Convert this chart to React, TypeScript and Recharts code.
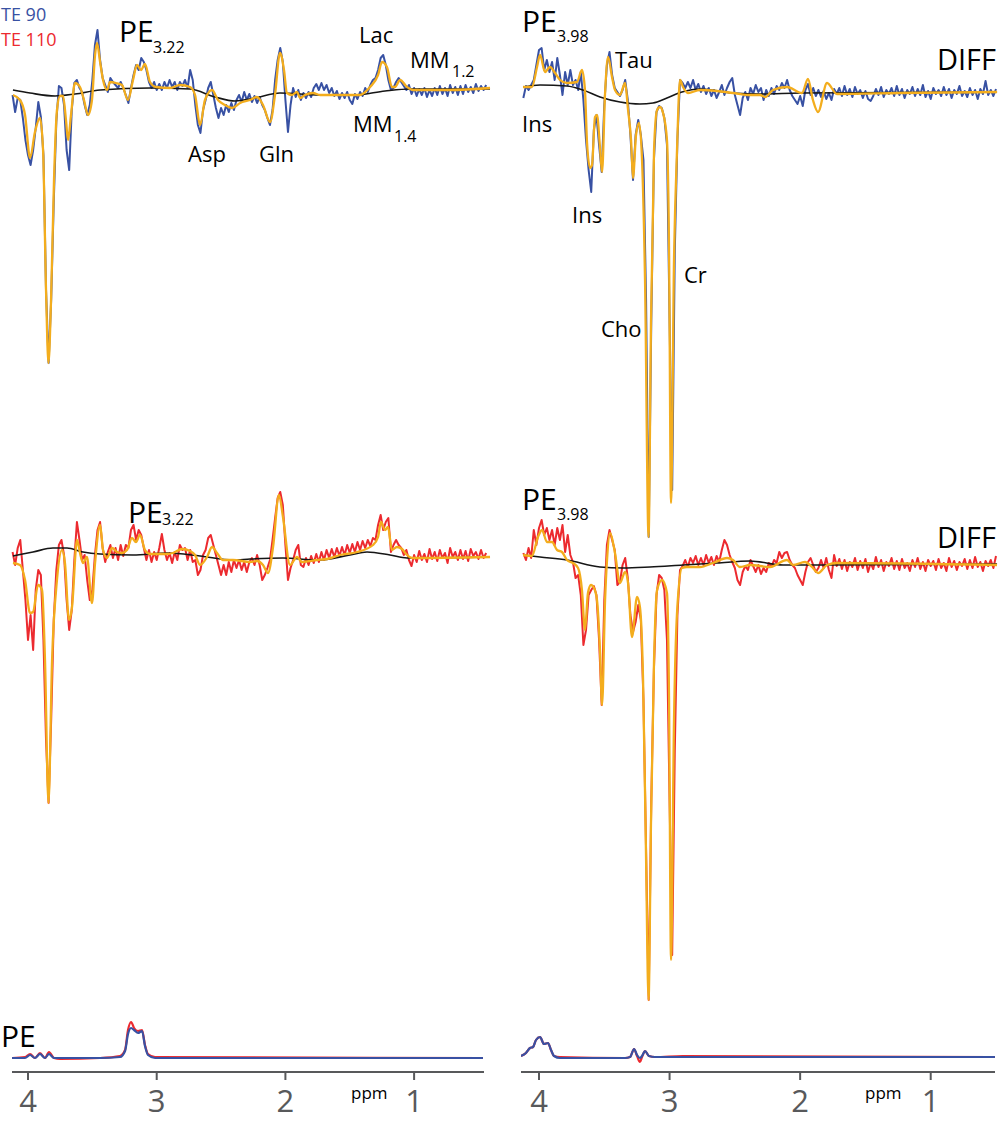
import React from 'react';
import { LineChart, Line, XAxis, YAxis } from 'recharts';

const BLUE = '#3851a3';
const RED = '#ec2a2f';
const ORANGE = '#f3ad1d';
const BLACK = '#161616';
const AXIS = '#58595b';
const FONT = "'Open Sans', 'Noto Sans', sans-serif";

// regular ppm grid of the measured (noisy) spectra
const GRID_START = 4.12;
const GRID_STEP = 0.02;

// TE 90, PE 3.22 (measured)
const TL_BLUE = [
  -3, -20, -6, -8, -26, -48, -63, -73, -58, -36,
  -10, -25, -63, -198, -271, -208, -110, -30, 6, 4,
  -13, -58, -78, -18, 9, 12, 4, 0, -13, -23,
  -13, 12, 47, 62, 32, 14, 7, 0, 14, 10,
  7, 4, 10, 4, -3, -11, 4, 17, 27, 22,
  34, 30, 22, 10, 4, 10, 2, 8, 2, 10,
  4, 12, 5, 10, 2, 10, 6, 12, 4, 22,
  12, -13, -33, -41, -18, -8, 4, 10, -3, -16,
  -26, -16, -23, -13, -20, -11, -18, -8, -3, -10,
  0, -8, -2, -10, -4, -11, -5, -13, -18, -26,
  -33, -18, 12, 32, 44, 30, -8, -40, -13, 4,
  -5, 2, -8, -1, -6, 0, -5, 4, 8, 2,
  9, 2, 7, -1, 4, -4, 1, -7, -1, -6,
  0, -8, -12, -2, -7, 0, -4, 4, 0, 7,
  12, 14, 22, 34, 37, 27, 12, 2, 4, 10,
  14, 10, 6, 2, 7, -2, 4, -4, 3, -3,
  4, -5, 2, -4, 4, -3, 6, -2, 4, -4,
  7, -1, 5, -3, 6, -2, 7, 0, 5, -1,
  8, 1, 6, 2, 7,
];

// TE 90, PE 3.98 DIFF (measured)
const TR_BLUE = [
  -5, 7, 3, 8, 13, 28, 43, 45, 23, 33,
  21, 31, 13, 35, 18, -2, 21, 8, 23, 8,
  13, 3, 21, -7, -47, -77, -99, -37, -22, -52,
  -79, -12, 28, 41, 18, 5, 1, -3, 3, 13,
  -7, -42, -87, -42, -27, -42, -67, -207, -444, -227,
  -67, -19, -13, -15, -25, -52, -227, -397, -157, -47,
  13, 10, 5, 11, 5, 13, 3, 9, 1, 7,
  -1, 5, -3, 3, -5, 1, 8, -2, 5, 11,
  15, -2, -12, -22, -5, 1, -7, 5, -1, 8,
  1, 5, -7, 3, -3, 5, -1, 7, 3, 10,
  5, 13, 3, -3, -7, -11, -3, -13, 3, 9,
  -2, 5, -3, 3, -4, 2, -6, 0, -7, 4,
  -1, 5, -3, 7, -2, 4, -4, 6, -1, 3,
  -5, 2, -6, -8, -3, 4, -2, 6, -4, 3,
  -1, 5, -3, 7, -2, 4, -5, 3, -1, 6,
  -3, 4, -2, 8, -4, 2, -6, 5, -1, 3,
  -3, 6, -2, 4, -5, 3, -1, 7, -3, 2,
  -4, 5, -2, 3, -6, 4, -1, 12, -2, 3,
  -3, 4,
];

// TE 110, PE 3.22 (measured)
const BL_RED = [
  4, -9, 8, 16, -14, -44, -84, -59, -94, -34,
  -14, -19, -84, -184, -247, -164, -64, -14, 11, 16,
  1, -44, -74, -54, -4, 34, 16, -4, 1, -24,
  -44, -34, 1, 26, 34, 8, -6, 4, 11, -2,
  8, -4, 11, 0, 11, 8, 26, 31, 16, 26,
  21, 8, -4, 6, -6, 4, -4, 8, 22, 6,
  -4, 3, -7, 4, -4, 11, 6, 8, -4, 6,
  -6, -4, -19, -14, 1, 6, 18, 21, 11, 1,
  -9, -19, -9, -19, -6, -16, -4, -12, -4, -14,
  -6, -16, -6, -2, -9, 1, -9, -24, -19, -12,
  -4, 16, 38, 58, 64, 51, 11, -24, -12, -4,
  6, 11, -9, -11, -2, -9, 0, -7, 2, -6,
  4, -4, 6, -2, 7, -1, 8, 0, 9, 1,
  11, 3, 12, 4, 14, 6, 15, 8, 16, 10,
  18, 16, 31, 41, 26, 34, 38, 4, 11, 16,
  11, 8, 1, 6, -4, -10, 1, -6, 5, -4,
  2, -6, 7, -3, 4, -5, 6, -2, 3, -7,
  8, -1, 4, -4, 6, -3, 5, -5, 7, 0,
  4, -3, 6, -2, 3,
];

// TE 110, PE 3.98 DIFF (measured)
const BR_RED = [
  12, 5, 17, 7, 35, 20, 37, 45, 30, 37,
  25, 35, 20, 37, 25, 40, 13, 30, 10, 3,
  -13, -10, -30, -80, -65, -30, -25, -21, -30, -75,
  -140, -35, 20, 35, 25, 15, -20, -17, 0, 7,
  -13, -50, -67, -57, -40, -55, -135, -285, -435, -235,
  -105, -30, -10, -13, -25, -75, -235, -390, -185, -50,
  -5, -1, 5, -2, 7, 2, 9, 0, 7, 0,
  10, 2, 8, 0, 9, 3, 15, 25, 20, 10,
  3, -3, -15, -20, -7, -1, -5, 5, -1, -7,
  0, -9, -3, -7, 2, -2, 5, 2, 13, 7,
  12, 13, 5, 0, -3, -10, -15, -20, -7, 3,
  7, 0, -7, -3, 5, -3, 7, -5, -13, 10,
  -1, 6, -4, 5, -6, 3, -2, 7, -5, 4,
  -3, 6, -7, 2, -4, 8, -2, 5, -6, 3,
  -1, 7, -4, 4, -5, 6, -3, 2, -6, 5,
  -2, 7, -4, 3, -6, 5, -1, 4, -5, 6,
  -3, 2, -6, 7, -2, 4, -5, 3, -1, 6,
  -4, 5, -3, 8, -2, 3, -6, 4, -1, 5,
  -3, 9,
];

// fits [ppm, value]
const TL_FIT = [[4.117,-3],[4.062,-8],[4.023,-23],[3.984,-66],[3.946,-40],[3.907,-26],[3.883,-58],[3.86,-198],[3.841,-271],[3.821,-208],[3.798,-88],[3.775,-18],[3.751,-4],[3.728,-4],[3.705,-28],[3.689,-48],[3.666,-23],[3.635,9],[3.596,5],[3.565,-8],[3.534,-23],[3.503,-8],[3.479,37],[3.464,49],[3.44,30],[3.417,12],[3.386,2],[3.363,10],[3.316,9],[3.27,7],[3.223,-8],[3.184,12],[3.153,27],[3.122,22],[3.091,28],[3.052,10],[3.005,5],[2.896,4],[2.819,7],[2.741,5],[2.702,-3],[2.663,-33],[2.625,-8],[2.57,2],[2.524,-8],[2.469,-13],[2.415,-16],[2.352,-11],[2.275,-8],[2.221,-5],[2.174,-13],[2.119,-30],[2.081,-3],[2.042,39],[2.011,22],[1.988,-1],[1.949,-3],[1.91,0],[1.886,-6],[1.848,-3],[1.785,-1],[1.731,-3],[1.42,-3],[1.342,5],[1.28,17],[1.249,30],[1.211,25],[1.172,5],[1.148,5],[1.109,12],[1.055,5],[1.008,2],[0.721,2],[0.41,4]];
const TR_FIT = [[4.122,6],[4.054,6],[4.015,26],[3.992,38],[3.954,21],[3.916,26],[3.877,20],[3.839,13],[3.786,10],[3.709,11],[3.671,23],[3.648,3],[3.632,-50],[3.609,-75],[3.594,-72],[3.571,-24],[3.556,-22],[3.533,-54],[3.517,-79],[3.494,0],[3.471,36],[3.441,16],[3.418,3],[3.38,-2],[3.341,10],[3.318,-17],[3.295,-47],[3.28,-85],[3.257,-42],[3.234,-30],[3.211,-67],[3.188,-187],[3.161,-444],[3.142,-227],[3.119,-57],[3.096,-17],[3.073,-14],[3.05,-20],[3.02,-47],[3.004,-157],[2.989,-410],[2.966,-167],[2.943,-57],[2.92,13],[2.897,6],[2.859,0],[2.767,3],[2.637,2],[2.514,0],[2.384,-2],[2.307,-2],[2.269,-4],[2.208,3],[2.101,6],[1.986,0],[1.94,14],[1.902,-7],[1.863,-19],[1.794,10],[1.718,-1],[1.235,0],[0.492,1]];
const BL_FIT = [[4.117,-7],[4.062,-9],[4.023,-24],[3.984,-57],[3.961,-56],[3.922,-29],[3.891,-34],[3.868,-104],[3.841,-247],[3.813,-104],[3.775,-24],[3.736,6],[3.713,-7],[3.681,-64],[3.658,-51],[3.619,16],[3.596,3],[3.573,-7],[3.542,-1],[3.503,-47],[3.479,-7],[3.44,31],[3.417,6],[3.386,-2],[3.347,8],[3.308,4],[3.27,3],[3.231,6],[3.192,18],[3.161,14],[3.13,21],[3.091,6],[3.052,2],[2.92,2],[2.873,3],[2.803,7],[2.741,5],[2.702,1],[2.663,-9],[2.609,-1],[2.57,9],[2.531,3],[2.485,-4],[2.407,-4],[2.275,-6],[2.221,-5],[2.174,-9],[2.135,-17],[2.096,9],[2.05,61],[2.019,39],[1.964,-9],[1.91,-1],[1.871,-6],[1.754,-4],[1.677,-3],[1.575,1],[1.443,4],[1.319,11],[1.28,19],[1.257,34],[1.226,26],[1.203,29],[1.172,6],[1.133,9],[1.094,7],[1.055,1],[1.016,-2],[0.41,-1]];
const BR_FIT = [[4.122,10],[4.054,9],[4.008,28],[3.977,35],[3.939,23],[3.9,23],[3.862,15],[3.824,13],[3.786,5],[3.74,2],[3.701,-3],[3.671,-25],[3.648,-65],[3.625,-28],[3.602,-20],[3.579,-23],[3.556,-35],[3.533,-85],[3.517,-140],[3.494,-35],[3.479,5],[3.456,32],[3.418,12],[3.38,-18],[3.341,-7],[3.318,-18],[3.288,-72],[3.249,-32],[3.227,-42],[3.203,-115],[3.181,-285],[3.161,-435],[3.142,-255],[3.119,-95],[3.096,-25],[3.058,-15],[3.02,-28],[3.004,-135],[2.989,-395],[2.966,-155],[2.943,-48],[2.905,-3],[2.867,-2],[2.767,-2],[2.667,2],[2.56,7],[2.514,5],[2.461,-2],[2.384,0],[2.231,-2],[2.101,5],[2.055,0],[1.963,3],[1.909,-2],[1.863,-8],[1.794,0],[1.718,2],[0.492,0]];

// baselines [ppm, value]
const TL_BASE = [[4.117,2],[3.984,-1],[3.79,-4],[3.635,-2],[3.44,2],[3.052,4],[2.741,3],[2.547,-5],[2.391,-9],[2.236,-6],[2.042,-1],[1.731,-3],[1.459,-3],[1.226,1],[1.031,3],[0.41,3]];
const TR_BASE = [[4.122,6],[3.992,8],[3.786,7],[3.663,3],[3.533,-4],[3.38,-9],[3.227,-11],[3.127,-10],[3.02,-5],[2.905,1],[2.767,4],[2.514,0],[2.307,-1],[2.001,0],[0.492,1]];
const BL_BASE = [[4.117,0],[3.961,4],[3.806,8],[3.697,8],[3.573,4],[3.44,2],[3.184,1],[2.92,3],[2.663,0],[2.407,-4],[2.275,-3],[2.019,-2],[1.754,-4],[1.498,1],[1.366,4],[1.187,1],[1.055,-2],[0.41,-1]];
const BR_BASE = [[4.122,10],[3.992,8],[3.786,5],[3.533,-2],[3.357,-3],[3.15,-2],[2.897,0],[2.637,2],[2.384,4],[2.131,0],[1.978,0],[0.492,1]];

// pure PE spectra [ppm, value]
const PEL_RED = [[4.124,0],[4.023,1],[3.984,4],[3.946,0],[3.907,5],[3.868,0],[3.837,6],[3.798,0],[3.751,-1],[3.44,0],[3.285,2],[3.246,8],[3.223,28],[3.199,36],[3.176,30],[3.145,27],[3.114,28],[3.091,13],[3.068,4],[3.013,1],[0.465,0]];
const PEL_BLUE = [[4.124,0],[4.023,0],[3.984,3],[3.946,0],[3.907,4],[3.868,0],[3.837,4],[3.798,0],[3.44,0],[3.285,1],[3.246,7],[3.223,24],[3.199,30],[3.176,28],[3.145,25],[3.114,27],[3.091,12],[3.068,3],[3.013,0],[0.465,0]];
const PER_RED = [[4.138,1],[4.1,4],[4.069,9],[4.046,10],[4.023,17],[3.992,20],[3.962,13],[3.931,14],[3.908,7],[3.885,1],[3.839,0],[3.341,-1],[3.303,0],[3.272,8],[3.249,1],[3.227,-5],[3.211,0],[3.188,6],[3.158,1],[3.112,0],[2.9,1],[0.508,0]];
const PER_BLUE = [[4.138,1],[4.1,4],[4.069,9],[4.046,10],[4.023,17],[3.992,20],[3.962,13],[3.931,14],[3.908,7],[3.885,1],[3.839,-1],[3.341,-1],[3.303,0],[3.272,8],[3.249,2],[3.227,-1],[3.211,1],[3.188,6],[3.158,1],[3.112,0],[0.508,0]];

const PPM_TICKS = [4, 3, 2, 1];

const LABELS = [
  { t: 'TE 90', x: 1, y: 21, s: 18, c: BLUE },
  { t: 'TE 110', x: 1, y: 46, s: 18, c: RED },
  { t: 'PE', x: 119, y: 42, s: 30 }, { t: '3.22', x: 153, y: 53, s: 16 },
  { t: 'Asp', x: 188, y: 162, s: 22 },
  { t: 'Gln', x: 259, y: 162, s: 22 },
  { t: 'Lac', x: 359, y: 43, s: 22 },
  { t: 'MM', x: 410, y: 68, s: 22 }, { t: '1.2', x: 452, y: 77, s: 16 },
  { t: 'MM', x: 353, y: 132, s: 22 }, { t: '1.4', x: 394, y: 142, s: 16 },
  { t: 'PE', x: 522, y: 32, s: 30 }, { t: '3.98', x: 557, y: 42, s: 16 },
  { t: 'Tau', x: 615, y: 68, s: 22 },
  { t: 'DIFF', x: 996, y: 70, s: 29, a: 'end' },
  { t: 'Ins', x: 522, y: 132, s: 22 },
  { t: 'Ins', x: 572, y: 223, s: 22 },
  { t: 'Cr', x: 684, y: 283, s: 22 },
  { t: 'Cho', x: 601, y: 337, s: 22 },
  { t: 'PE', x: 128, y: 523, s: 30 }, { t: '3.22', x: 162, y: 525, s: 16 },
  { t: 'PE', x: 522, y: 510, s: 30 }, { t: '3.98', x: 557, y: 520, s: 16 },
  { t: 'DIFF', x: 996, y: 548, s: 29, a: 'end' },
  { t: 'PE', x: 1, y: 1047, s: 30 },
  { t: 'ppm', x: 351, y: 1099, s: 17 },
  { t: 'ppm', x: 865, y: 1099, s: 17 },
];

type Pt = { x: number; v: number };
const grid = (vals: number[]): Pt[] =>
  vals.map((v, i) => ({ x: Math.round((GRID_START - GRID_STEP * i) * 1000) / 1000, v }));
const pairs = (arr: number[][]): Pt[] => arr.map(([x, v]) => ({ x, v }));

type Series = { data: Pt[]; color: string; w: number; type: 'linear' | 'monotone' };

const PpmTick = (props: any) => {
  const { x, y, payload } = props;
  return (
    <text x={x} y={y + 30} textAnchor="middle" fontSize={31} fill={AXIS} fontFamily={FONT}>
      {payload.value}
    </text>
  );
};

function Panel(props: {
  left: number; top: number; width: number; height: number;
  xDomain: [number, number]; yDomain: [number, number];
  series: Series[]; margin?: any; axis?: boolean;
}) {
  const { left, top, width, height, xDomain, yDomain, series, axis } = props;
  const margin = props.margin || { top: 0, right: 0, bottom: 0, left: 0 };
  return (
    <div style={{ position: 'absolute', left, top, width, height }}>
      <LineChart width={width} height={height} margin={margin}>
        <XAxis
          type="number"
          dataKey="x"
          domain={xDomain}
          reversed
          allowDataOverflow
          hide={!axis}
          ticks={PPM_TICKS}
          interval={0}
          height={axis ? 49 : 0}
          axisLine={{ stroke: AXIS, strokeWidth: 2 }}
          tickLine={{ stroke: AXIS, strokeWidth: 2 }}
          tickSize={8}
          tickMargin={2}
          tick={<PpmTick />}
        />
        <YAxis type="number" domain={yDomain} hide allowDataOverflow />
        {series.map((s, i) => (
          <Line
            key={i}
            data={s.data}
            dataKey="v"
            type={s.type}
            stroke={s.color}
            strokeWidth={s.w}
            strokeLinejoin="round"
            dot={false}
            activeDot={false}
            isAnimationActive={false}
          />
        ))}
      </LineChart>
    </div>
  );
}

const LEFT_X: [number, number] = [0.3326, 4.2176];
const RIGHT_X: [number, number] = [0.4694, 4.2987];

export default function App() {
  return (
    <div style={{ position: 'absolute', left: 0, top: 0, width: 1000, height: 1121, background: '#fff', overflow: 'hidden' }}>
      <Panel left={0} top={0} width={500} height={380} xDomain={LEFT_X} yDomain={[-288, 92]}
        series={[
          { data: grid(TL_BLUE), color: BLUE, w: 2, type: 'linear' },
          { data: pairs(TL_BASE), color: BLACK, w: 1.6, type: 'monotone' },
          { data: pairs(TL_FIT), color: ORANGE, w: 2.3, type: 'monotone' },
        ]} />
      <Panel left={500} top={0} width={500} height={545} xDomain={RIGHT_X} yDomain={[-452, 93]}
        series={[
          { data: grid(TR_BLUE), color: BLUE, w: 2, type: 'linear' },
          { data: pairs(TR_BASE), color: BLACK, w: 1.6, type: 'monotone' },
          { data: pairs(TR_FIT), color: ORANGE, w: 2.3, type: 'monotone' },
        ]} />
      <Panel left={0} top={480} width={500} height={330} xDomain={LEFT_X} yDomain={[-254, 76]}
        series={[
          { data: grid(BL_RED), color: RED, w: 2, type: 'linear' },
          { data: pairs(BL_BASE), color: BLACK, w: 1.6, type: 'monotone' },
          { data: pairs(BL_FIT), color: ORANGE, w: 2.3, type: 'monotone' },
        ]} />
      <Panel left={500} top={480} width={500} height={530} xDomain={RIGHT_X} yDomain={[-445, 85]}
        series={[
          { data: grid(BR_RED), color: RED, w: 2, type: 'linear' },
          { data: pairs(BR_BASE), color: BLACK, w: 1.6, type: 'monotone' },
          { data: pairs(BR_FIT), color: ORANGE, w: 2.3, type: 'monotone' },
        ]} />
      <Panel left={0} top={1000} width={500} height={121} xDomain={[0.4569, 4.1244]} yDomain={[-14, 58]}
        margin={{ top: 0, right: 16, bottom: 0, left: 12 }} axis
        series={[
          { data: pairs(PEL_RED), color: RED, w: 2.2, type: 'monotone' },
          { data: pairs(PEL_BLUE), color: BLUE, w: 2.2, type: 'monotone' },
        ]} />
      <Panel left={500} top={1000} width={500} height={121} xDomain={[0.5076, 4.1379]} yDomain={[-15, 57]}
        margin={{ top: 0, right: 5, bottom: 0, left: 21 }} axis
        series={[
          { data: pairs(PER_RED), color: RED, w: 2.2, type: 'monotone' },
          { data: pairs(PER_BLUE), color: BLUE, w: 2.2, type: 'monotone' },
        ]} />
      <svg width={1000} height={1121} style={{ position: 'absolute', left: 0, top: 0, pointerEvents: 'none' }}>
        {LABELS.map((l, i) => (
          <text key={i} x={l.x} y={l.y} fontSize={l.s} fill={l.c || '#000'} fontFamily={FONT}
            textAnchor={(l as any).a || 'start'}>
            {l.t}
          </text>
        ))}
      </svg>
    </div>
  );
}
